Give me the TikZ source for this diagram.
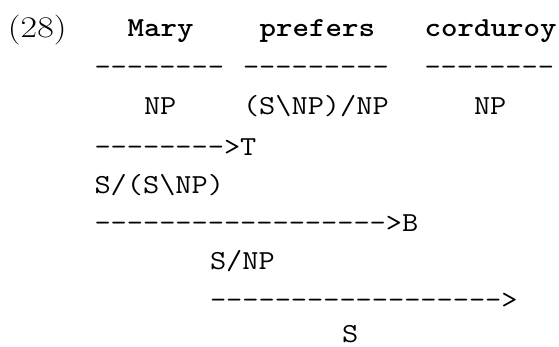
\documentclass[tikz,border=0pt]{standalone}
\usepackage{graphicx}
\newcommand\sx[1]{\scalebox{1.143}[1]{#1}}
\newcommand\dashrun[1]{\foreach \i in {1,...,#1}{-}}
\tikzset{
  tok/.style={anchor=base west, inner sep=0pt, outer sep=0pt,
    font=\fontsize{27.5}{30}\selectfont\ttfamily},
  wordtok/.style={tok, font=\fontsize{27.5}{30}\selectfont\ttfamily\bfseries},
  numtok/.style={anchor=base west, inner sep=0pt, outer sep=0pt,
    font=\fontsize{30}{33}\selectfont\rmfamily},
}
\begin{document}
\begin{tikzpicture}[x=1pt,y=1pt]
\useasboundingbox (0,0) rectangle (559,346);
% column c -> x = 94.5 + 16.5 c ; row baseline (px from top) -> y = 346 - b
\node[numtok] (ex) at (8,{346-37.5}) {\scalebox{1.2}[1]{(28)}};
% line 1: words
\node[wordtok] (w1) at ({94.5+16.5*2},{346-37}) {\sx{Mary}};
\node[wordtok] (w2) at ({94.5+16.5*10},{346-37}) {\sx{prefers}};
\node[wordtok] (w3) at ({94.5+16.5*20},{346-37}) {\sx{corduroy}};
% line 2: lexical rules
\node[tok] (r1) at ({94.5+16.5*0},{346-76}) {\sx{\dashrun{8}}};
\node[tok] (r2) at ({94.5+16.5*9},{346-76}) {\sx{\dashrun{9}}};
\node[tok] (r3) at ({94.5+16.5*20},{346-76}) {\sx{\dashrun{8}}};
% line 3: categories
\node[tok] (c1) at ({94.5+16.5*3},{346-115}) {\sx{NP}};
\node[tok] (c2) at ({94.5+16.5*9},{346-115}) {\sx{(S\textbackslash NP)/NP}};
\node[tok] (c3) at ({94.5+16.5*23},{346-115}) {\sx{NP}};
% line 4: type raising
\node[tok] (t1) at ({94.5+16.5*0},{346-155}) {\sx{\dashrun{8}>T}};
% line 5
\node[tok] (c4) at ({94.5+16.5*0},{346-193}) {\sx{S/(S\textbackslash NP)}};
% line 6: composition
\node[tok] (t2) at ({94.5+16.5*0},{346-231}) {\sx{\dashrun{18}>B}};
% line 7
\node[tok] (c5) at ({94.5+16.5*7},{346-269.5}) {\sx{S/NP}};
% line 8: application
\node[tok] (t3) at ({94.5+16.5*7},{346-308}) {\sx{\dashrun{18}>}};
% line 9
\node[tok] (c6) at ({94.5+16.5*15},{346-342}) {\sx{S}};
\end{tikzpicture}
\end{document}
